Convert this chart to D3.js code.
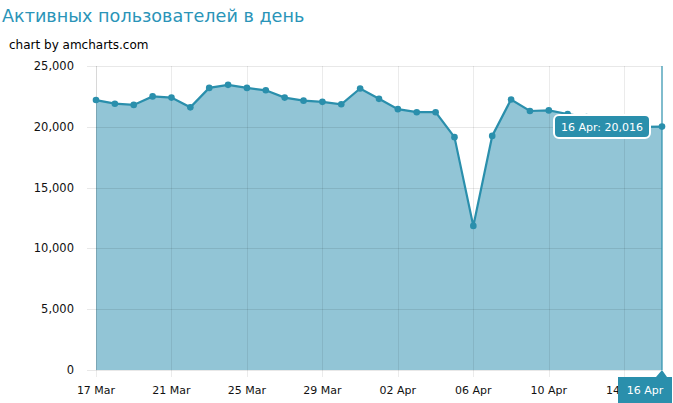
<!DOCTYPE html>
<html><head><meta charset="utf-8">
<script src="https://cdn.jsdelivr.net/npm/d3@7"></script>
<style>
html,body{margin:0;padding:0;background:#fff;}
svg{display:block;}
text{font-family:Verdana,"DejaVu Sans",sans-serif;}
</style></head>
<body>
<svg id="c" width="673" height="403"></svg>
<script>
const dates = ["2014-03-17","2014-03-18","2014-03-19","2014-03-20","2014-03-21","2014-03-22","2014-03-23","2014-03-24","2014-03-25","2014-03-26","2014-03-27","2014-03-28","2014-03-29","2014-03-30","2014-03-31","2014-04-01","2014-04-02","2014-04-03","2014-04-04","2014-04-05","2014-04-06","2014-04-07","2014-04-08","2014-04-09","2014-04-10","2014-04-11","2014-04-12","2014-04-13","2014-04-14","2014-04-15","2014-04-16"];
const users = [22200,21900,21800,22500,22400,21600,23200,23450,23200,23000,22400,22150,22050,21850,23150,22300,21450,21200,21200,19150,11850,19250,22250,21300,21350,21050,20800,20500,20200,20000,20016];
const yTicks = [0,5000,10000,15000,20000,25000];
const xTickDates = ["2014-03-17","2014-03-21","2014-03-25","2014-03-29","2014-04-02","2014-04-06","2014-04-10","2014-04-14"];
const titleText = "Активных пользователей в день";
const creditText = "chart by amcharts.com";

const parse = d3.timeParse("%Y-%m-%d");
const data = dates.map((d,i)=>({date:parse(d), v:users[i]}));
const svg = d3.select("#c");
const L=96, R=662, T=66, B=370;
const x = d3.scaleTime().domain(d3.extent(data,d=>d.date)).range([L,R]);
const y = d3.scaleLinear().domain([0,25000]).range([B,T]);
const fmt = d3.format(",");
const tfmt = d3.timeFormat("%d %b");
const lineC = "#2a8fac", fillC = "#92c5d6";

svg.append("text").attr("x",2).attr("y",22).attr("fill","#2a94b8").attr("font-size",17.6).text(titleText);
svg.append("text").attr("x",9).attr("y",49).attr("fill","#000").attr("font-size",12).text(creditText);

// area
svg.append("path").datum(data)
  .attr("d", d3.area().x(d=>x(d.date)).y0(y(0)).y1(d=>y(d.v)))
  .attr("fill", fillC);

// grid
const g = svg.append("g");
yTicks.forEach(t=>{
  g.append("line").attr("x1",L-9).attr("x2",R).attr("y1",Math.round(y(t))+0.5).attr("y2",Math.round(y(t))+0.5)
    .attr("stroke","#000").attr("stroke-opacity",0.09);
  g.append("text").attr("x",L-22).attr("y",y(t)+4).attr("text-anchor","end").attr("font-size",11.5).attr("fill","#111").text(fmt(t));
});
xTickDates.map(parse).forEach(t=>{
  g.append("line").attr("x1",Math.round(x(t))+0.5).attr("x2",Math.round(x(t))+0.5).attr("y1",T).attr("y2",B+7)
    .attr("stroke","#000").attr("stroke-opacity",0.08);
  g.append("text").attr("x",x(t)).attr("y",B+24).attr("text-anchor","middle").attr("font-size",11).attr("fill","#111").text(tfmt(t));
});
g.append("line").attr("x1",L+0.5).attr("x2",L+0.5).attr("y1",T).attr("y2",B).attr("stroke","#000").attr("stroke-opacity",0.08);

// line + points
svg.append("path").datum(data)
  .attr("d", d3.line().x(d=>x(d.date)).y(d=>y(d.v)))
  .attr("fill","none").attr("stroke",lineC).attr("stroke-width",2.2);
svg.selectAll("circle.p").data(data).enter().append("circle")
  .attr("cx",d=>x(d.date)).attr("cy",d=>y(d.v)).attr("r",3.3).attr("fill",lineC);

// cursor
const last = data[data.length-1];
const cx = x(last.date);
svg.append("line").attr("x1",cx).attr("x2",cx).attr("y1",T).attr("y2",B).attr("stroke",lineC).attr("stroke-width",1.2);

// value balloon
const by = y(last.v);
const bw = 96, bh = 23;
const bx = cx - 12 - bw;
svg.append("rect").attr("x",bx).attr("y",by-bh/2).attr("width",bw).attr("height",bh).attr("rx",5)
  .attr("fill",lineC).attr("stroke","#fff").attr("stroke-width",2);
svg.append("text").attr("x",bx+bw/2).attr("y",by+4).attr("text-anchor","middle").attr("font-size",11).attr("fill","#fff")
  .text(tfmt(last.date)+": "+fmt(last.v));

// category balloon
const cw = 54, ch = 26, cy0 = 377;
const cxl = 618;
svg.append("path").attr("d",`M${cxl},${cy0} L${cx-6},${cy0} L${cx},${B} L${cx+5},${cy0} L${cxl+cw},${cy0} L${cxl+cw},${cy0+ch} L${cxl},${cy0+ch} Z`)
  .attr("fill",lineC);
svg.append("text").attr("x",cxl+cw/2).attr("y",cy0+17).attr("text-anchor","middle").attr("font-size",11).attr("fill","#fff").text(tfmt(last.date));
</script>
</body></html>
